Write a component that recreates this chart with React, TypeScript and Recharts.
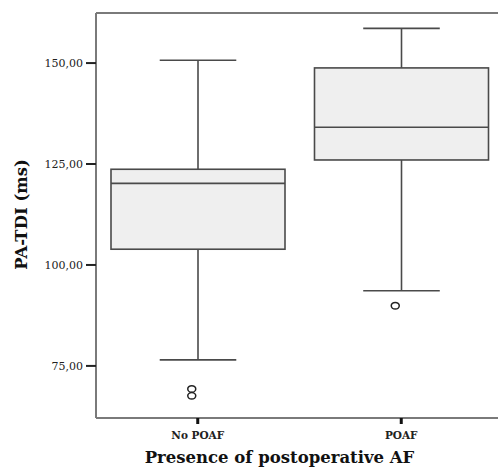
import React from 'react';
import { ComposedChart, Bar, Scatter, XAxis, YAxis, Label, ReferenceLine } from 'recharts';

const categories = ['No POAF', 'POAF'];
const whiskerLow = [76.5, 93.6];
const quartile1 = [103.9, 126.0];
const medians = [120.2, 134.1];
const quartile3 = [123.7, 148.8];
const whiskerHigh = [150.7, 158.6];
const outlierA = [69.3, 89.9];
const outlierB = [67.6, null];
const yTicks = [75, 100, 125, 150];
const yDomain = [62.1, 162.4];

const data = categories.map((name, i) => ({
  name,
  min: whiskerLow[i],
  q1: quartile1[i],
  median: medians[i],
  q3: quartile3[i],
  max: whiskerHigh[i],
  out1: outlierA[i],
  out2: outlierB[i],
}));

const SERIF = '"DejaVu Serif", serif';
const STROKE = '#4a4a4a';

const BoxShape = (props: any) => {
  const { x, y, width, height, payload } = props;
  const top = Math.min(y, y + height);
  const h = Math.abs(height);
  const ppu = h / (payload.max - payload.min);
  const yOf = (v: number) => top + (payload.max - v) * ppu;
  const cx = x + width / 2;
  const capHalf = width * 0.22;
  const yMax = yOf(payload.max);
  const yMin = yOf(payload.min);
  const yQ1 = yOf(payload.q1);
  const yQ3 = yOf(payload.q3);
  const yMed = yOf(payload.median);
  return (
    <g>
      <line x1={cx} x2={cx} y1={yMax} y2={yQ3} stroke={STROKE} strokeWidth={1.6} />
      <line x1={cx} x2={cx} y1={yQ1} y2={yMin} stroke={STROKE} strokeWidth={1.6} />
      <line x1={cx - capHalf} x2={cx + capHalf} y1={yMax} y2={yMax} stroke={STROKE} strokeWidth={1.6} />
      <line x1={cx - capHalf} x2={cx + capHalf} y1={yMin} y2={yMin} stroke={STROKE} strokeWidth={1.6} />
      <rect x={x} y={yQ3} width={width} height={yQ1 - yQ3} fill="#efefef" stroke={STROKE} strokeWidth={1.6} />
      <line x1={x} x2={x + width} y1={yMed} y2={yMed} stroke={STROKE} strokeWidth={1.6} />
    </g>
  );
};

const OutlierShape = (props: any) => {
  const { cx, cy } = props;
  if (cx == null || cy == null || isNaN(cy)) return <g />;
  return <ellipse cx={cx - 6} cy={cy} rx={4} ry={3.3} fill="none" stroke="#222" strokeWidth={1.5} />;
};

const fmt = (v: number) => v.toFixed(2).replace('.', ',');

export default function App() {
  return (
    <div style={{ position: 'fixed', left: 0, top: 0, width: 498, height: 471, overflow: 'hidden', background: '#fff' }}>
      <ComposedChart
        width={510}
        height={471}
        data={data}
        margin={{ top: 13, right: 7, bottom: 0, left: 0 }}
        barCategoryGap={0}
        style={{ overflow: 'hidden' }}
      >
        <XAxis
          dataKey="name"
          height={53}
          axisLine={{ stroke: '#7a7a7a', strokeWidth: 2 }}
          tickLine={{ stroke: '#111', strokeWidth: 3 }}
          tickSize={6}
          tickMargin={8}
          tick={{ fontFamily: SERIF, fontSize: 10.5, fontWeight: 'bold', fill: '#222' }}
        >
          <Label
            content={(p: any) => {
              const vb = p.viewBox || {};
              return (
                <text
                  x={vb.x + vb.width / 2 - 20}
                  y={vb.y + vb.height - 8}
                  textAnchor="middle"
                  fontFamily={SERIF}
                  fontSize={16.5}
                  fontWeight="bold"
                  fill="#111"
                >
                  Presence of postoperative AF
                </text>
              );
            }}
          />
        </XAxis>
        <YAxis
          width={96}
          domain={yDomain}
          ticks={yTicks}
          tickFormatter={fmt}
          axisLine={{ stroke: '#7a7a7a', strokeWidth: 2 }}
          tickLine={{ stroke: '#222', strokeWidth: 2 }}
          tickSize={10}
          tickMargin={3}
          tick={{ fontFamily: SERIF, fontSize: 11, fill: '#222' }}
        >
          <Label
            content={(p: any) => {
              const vb = p.viewBox || {};
              const cy = vb.y + vb.height / 2 - 1;
              const bx = 27;
              return (
                <text
                  x={bx}
                  y={cy}
                  transform={`rotate(-90, ${bx}, ${cy})`}
                  textAnchor="middle"
                  fontFamily={SERIF}
                  fontSize={16.5}
                  fontWeight="bold"
                  fill="#111"
                >
                  PA-TDI (ms)
                </text>
              );
            }}
          />
        </YAxis>
        <ReferenceLine y={yDomain[1]} stroke="#7a7a7a" strokeWidth={2} ifOverflow="extendDomain" />
        <Bar
          dataKey={(d: any) => [d.min, d.max]}
          barSize={174}
          shape={BoxShape}
          isAnimationActive={false}
        />
        <Scatter dataKey="out1" shape={OutlierShape} isAnimationActive={false} />
        <Scatter dataKey="out2" shape={OutlierShape} isAnimationActive={false} />
      </ComposedChart>
    </div>
  );
}
